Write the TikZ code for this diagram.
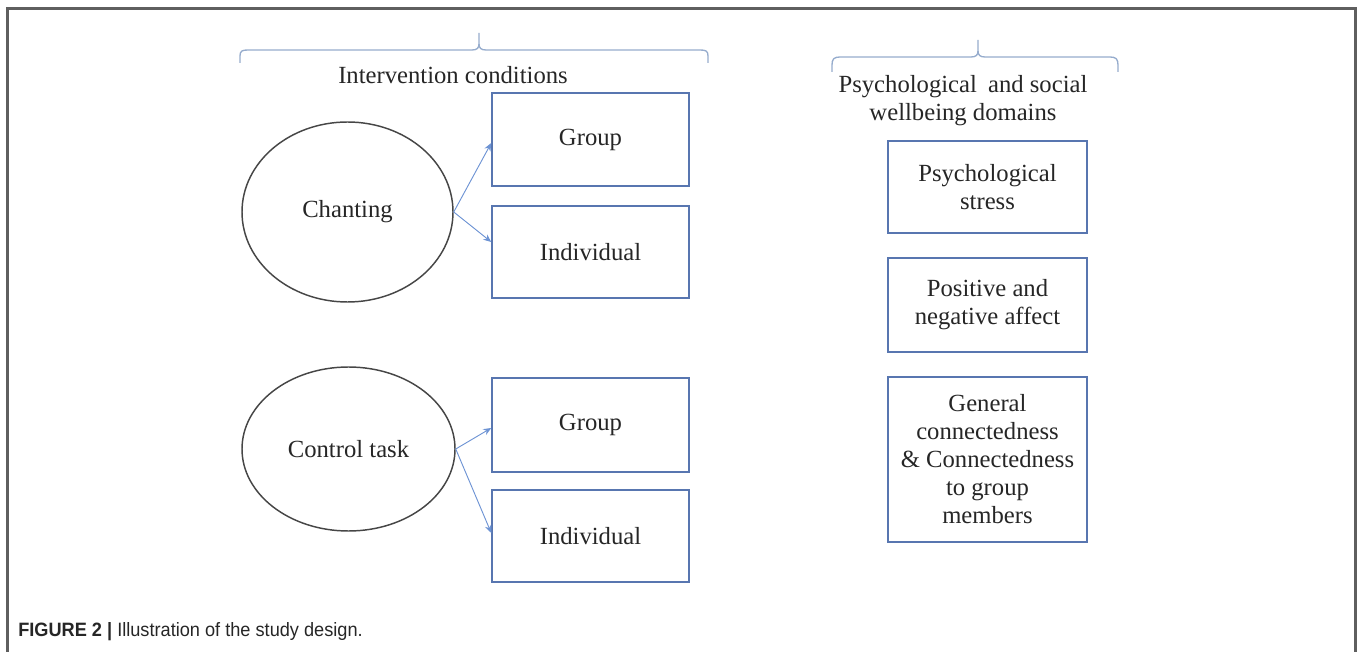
\documentclass[tikz,border=0pt]{standalone}
\usepackage{fontspec}
\setmainfont{Liberation Serif}
\newfontfamily\capfont[FakeStretch=0.94]{Liberation Sans}
\usetikzlibrary{shapes.geometric,arrows.meta}
\definecolor{boxblue}{RGB}{88,118,176}
\definecolor{arrblue}{RGB}{110,148,212}
\definecolor{braceblue}{RGB}{150,172,205}
\definecolor{framegray}{RGB}{95,95,95}
\definecolor{ellgray}{RGB}{70,70,70}
\tikzset{
  txt/.style={font=\fontsize{18.5pt}{21pt}\selectfont, text=black!85, align=center},
  rbox/.style={txt, draw=boxblue, line width=1.1pt, inner sep=0pt},
  ell/.style={txt, draw=ellgray, line width=1.1pt, ellipse, inner sep=0pt},
  arr/.style={draw=arrblue, line width=0.7pt, -{Stealth[length=6pt,width=5pt]}},
  brace/.style={draw=braceblue, line width=1pt},
}
\begin{document}
\begin{tikzpicture}[x=0.75pt,y=-0.75pt]
\useasboundingbox (0,0) rectangle (1357,652);
% frame
\draw[framegray, line width=1.6pt] (7.5,652) -- (7.5,8.5) -- (1355.5,8.5) -- (1355.5,652);
% braces
\draw[brace] (240,63) -- (240,56) .. controls (240,51) and (242,50) .. (248,50) -- (472,50)
  .. controls (477,50) and (479,48) .. (479,44) -- (479,33);
\draw[brace] (479,44) .. controls (479,48) and (481,50) .. (486,50) -- (700,50)
  .. controls (706,50) and (708,51) .. (708,56) -- (708,63);
\draw[brace] (832,72) -- (832,65) .. controls (832,59) and (834,57) .. (840,57) -- (971,57)
  .. controls (976,57) and (978,55) .. (978,51) -- (978,40);
\draw[brace] (978,51) .. controls (978,55) and (980,57) .. (985,57) -- (1110,57)
  .. controls (1116,57) and (1118,59) .. (1118,65) -- (1118,72);
% headings
\node[txt] (hint) at (453,75) {Intervention conditions};
\node[txt] (hpsy) at (963,101) {Psychological\hspace{0.2em} and social\\wellbeing domains};
% ellipses
\node[ell, minimum width=158.25pt, minimum height=135pt] (ch) at (347.5,212) {Chanting};
\node[ell, minimum width=159.75pt, minimum height=123pt] (ct) at (348.5,449) {Control task};
% left boxes
\node[rbox, minimum width=147.75pt, minimum height=69.75pt] (g1) at (590.5,139.5) {Group};
\node[rbox, minimum width=147.75pt, minimum height=69pt] (i1) at (590.5,252) {Individual};
\node[rbox, minimum width=147.75pt, minimum height=70.5pt] (g2) at (590.5,425) {Group};
\node[rbox, minimum width=147.75pt, minimum height=69pt] (i2) at (590.5,536) {Individual};
% right boxes
\node[rbox, minimum width=149.25pt, minimum height=69pt] (ps) at (987.5,187) {Psychological\\stress};
\node[rbox, minimum width=149.25pt, minimum height=70.5pt] (pa) at (987.5,305) {Positive and\\negative affect};
\node[rbox, minimum width=149.25pt, minimum height=123.75pt] (gc) at (987.5,459.5) {General\\connectedness\\\& Connectedness\\to group\\members};
% arrows
\draw[arr] (ch.east) -- ([yshift=-2.6pt]g1.west);
\draw[arr] (ch.east) -- ([yshift=7.5pt]i1.west);
\draw[arr] (ct.east) -- ([yshift=-2.25pt]g2.west);
\draw[arr] (ct.east) -- ([yshift=2.25pt]i2.west);
% caption
\node[anchor=base west, inner sep=0pt, font=\capfont\fontsize{14.5pt}{16pt}\selectfont, text=black!85] (cap) at (18,636) {\textbf{FIGURE 2 |} Illustration of the study design.};
\end{tikzpicture}
\end{document}
